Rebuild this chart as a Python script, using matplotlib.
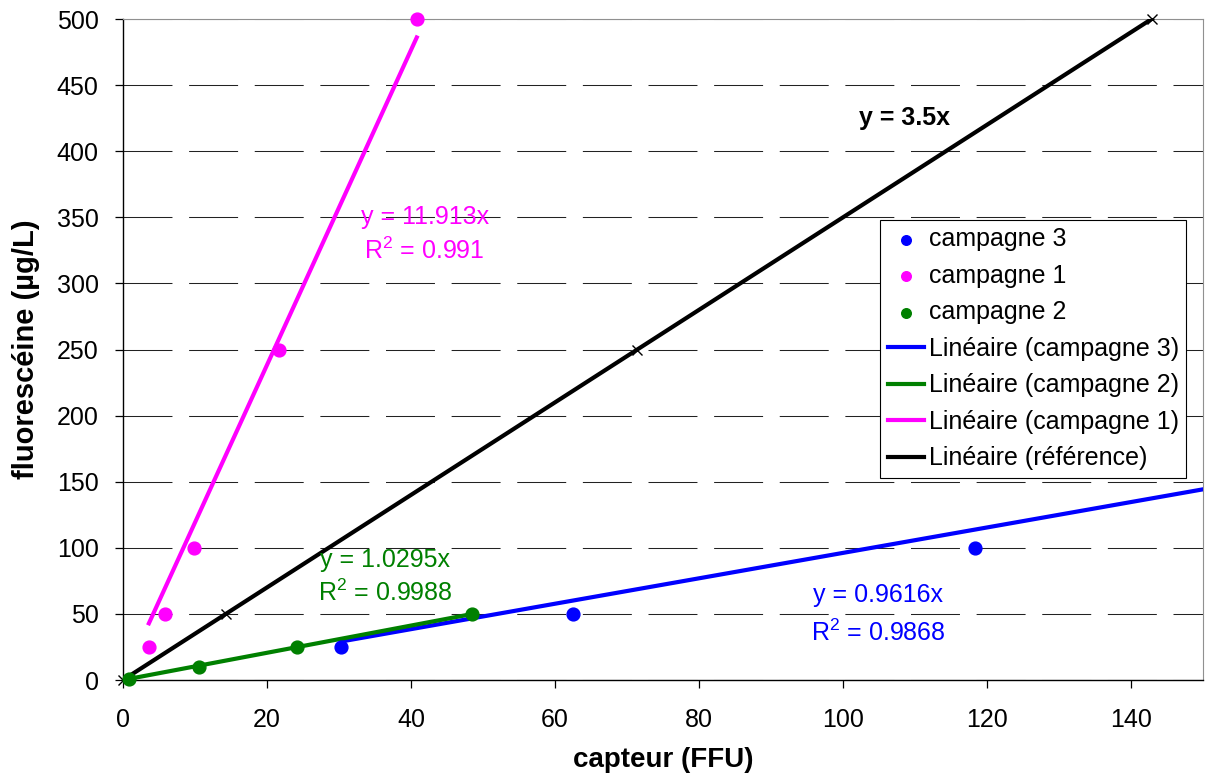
import matplotlib
matplotlib.use('Agg')
import matplotlib.pyplot as plt
import numpy as np

plt.rcParams['font.family'] = ['Liberation Sans', 'DejaVu Sans']
plt.rcParams['mathtext.fontset'] = 'custom'
plt.rcParams['mathtext.rm'] = 'Liberation Sans'

# ---------------------------------------------------------------------------
# Data
# ---------------------------------------------------------------------------
c3_x = [30.3, 62.5, 118.3]
c3_y = [25, 50, 100]
c1_x = [3.6, 5.8, 9.9, 21.6, 40.8]
c1_y = [25, 50, 100, 250, 500]
c2_x = [0.9, 10.6, 24.2, 48.5]
c2_y = [1, 10, 25, 50]
ref_x = [0, 14.3, 71.4, 142.9]
ref_y = [0, 50, 250, 500]

slope_c3, r2_c3 = 0.9616, 0.9868
slope_c2, r2_c2 = 1.0295, 0.9988
slope_c1, r2_c1 = 11.913, 0.991
slope_ref = 3.5

BLUE, MAGENTA, GREEN = '#0000FF', '#FF00FF', '#008000'
FS = 18

# ---------------------------------------------------------------------------
# Figure
# ---------------------------------------------------------------------------
fig = plt.figure(figsize=(12.08, 7.73), dpi=100)
ax = fig.add_axes([0.1018, 0.1203, 0.8941, 0.8551])

ax.set_xlim(0, 150)
ax.set_ylim(0, 500)
ax.set_xticks(np.arange(0, 141, 20))
ax.set_yticks(np.arange(0, 501, 50))
ax.yaxis.grid(True, color='#222222', linestyle=(0, (47, 16)), linewidth=0.75)
ax.set_axisbelow(True)

for side in ('top', 'right'):
    ax.spines[side].set_color('#909090')
for side in ('left', 'bottom'):
    ax.spines[side].set_color('black')
    ax.spines[side].set_linewidth(1.0)
ax.tick_params(direction='out', length=6, width=0.9, labelsize=FS)
ax.tick_params(axis='x', pad=14)
ax.tick_params(axis='y', pad=11.5)

# trend lines (through origin), Excel-style extents
x3 = np.array([min(c3_x), 150])
x2 = np.array([min(c2_x), max(c2_x)])
x1 = np.array([min(c1_x), max(c1_x)])
xr = np.array([0, max(ref_x)])
l3, = ax.plot(x3, slope_c3 * x3, color=BLUE, lw=3, zorder=3)
l2, = ax.plot(x2, slope_c2 * x2, color=GREEN, lw=3, zorder=3)
l1, = ax.plot(x1, slope_c1 * x1, color=MAGENTA, lw=3, zorder=3)
lr, = ax.plot(xr, slope_ref * xr, color='black', lw=3, zorder=3)

# reference points
ax.plot(ref_x, ref_y, linestyle='none', marker='x', color='black',
        markersize=7, markeredgewidth=1, zorder=4, clip_on=False)

# measurement points
s3 = ax.scatter(c3_x, c3_y, s=85, color=BLUE, zorder=5, clip_on=False)
s1 = ax.scatter(c1_x, c1_y, s=85, color=MAGENTA, zorder=5, clip_on=False)
s2 = ax.scatter(c2_x, c2_y, s=85, color=GREEN, zorder=5, clip_on=False)

# equations
ax.text(108.6, 425, f'y = {slope_ref}x', color='black', fontsize=FS,
        fontweight='bold', ha='center', va='center')
ax.text(41.9, 350, f'y = {slope_c1}x', color=MAGENTA, fontsize=FS,
        ha='center', va='center')
ax.text(41.9, 325, f'R$^2$ = {r2_c1}', color=MAGENTA, fontsize=FS,
        ha='center', va='center')
ax.text(36.4, 91, f'y = {slope_c2}x', color=GREEN, fontsize=FS,
        ha='center', va='center')
ax.text(36.4, 66, f'R$^2$ = {r2_c2}', color=GREEN, fontsize=FS,
        ha='center', va='center')
ax.text(104.9, 64, f'y = {slope_c3}x', color=BLUE, fontsize=FS,
        ha='center', va='center')
ax.text(104.9, 36, f'R$^2$ = {r2_c3}', color=BLUE, fontsize=FS,
        ha='center', va='center')

# legend
handles = [s3, s1, s2, l3, l2, l1, lr]
labels = ['campagne 3', 'campagne 1', 'campagne 2',
          'Linéaire (campagne 3)', 'Linéaire (campagne 2)',
          'Linéaire (campagne 1)', 'Linéaire (référence)']
leg = ax.legend(handles, labels, loc='upper left',
                bbox_to_anchor=(0.701, 0.696), fontsize=FS,
                frameon=True, fancybox=False, framealpha=1,
                edgecolor='black', handlelength=1.45, handletextpad=0.2,
                labelspacing=0.5, borderpad=0.3, borderaxespad=0,
                markerscale=0.75)
leg.get_frame().set_linewidth(0.8)

ax.set_xlabel('capteur (FFU)', fontsize=20, fontweight='bold', labelpad=11)
ax.set_ylabel('fluorescéine (µg/L)', fontsize=21, fontweight='bold', labelpad=12)

fig.savefig('out.png', dpi=100)
